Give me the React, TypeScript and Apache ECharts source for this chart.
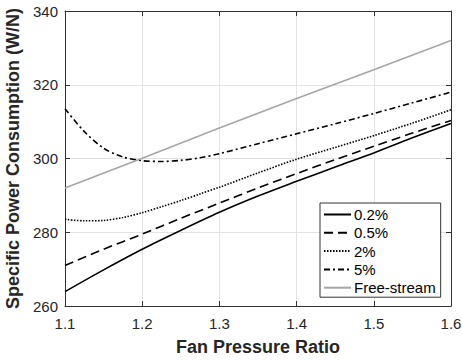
import React, { useEffect, useRef } from "react";
import * as echarts from "echarts";

const xCurve = [1.1, 1.125, 1.15, 1.175, 1.2, 1.225, 1.25, 1.275, 1.3, 1.35, 1.4, 1.45, 1.5, 1.55, 1.6];
const y5 = [313.5, 307.3, 302.8, 300.4, 299.4, 299.2, 299.5, 300.2, 301.3, 304.0, 306.7, 309.4, 312.2, 315.1, 318.0];
const y2 = [283.5, 283.1, 283.2, 284.0, 285.3, 286.9, 288.6, 290.4, 292.2, 296.1, 299.8, 303.0, 306.2, 309.6, 313.2];

const xLin = [1.1, 1.15, 1.2, 1.25, 1.3, 1.35, 1.4, 1.45, 1.5, 1.55, 1.6];
const y05 = [271.0, 275.4, 279.5, 283.8, 287.9, 292.0, 295.9, 299.7, 303.3, 306.9, 310.3];
const y02 = [263.9, 269.8, 275.4, 280.5, 285.4, 289.8, 293.8, 297.7, 301.5, 305.6, 309.5];

const xFree = [1.1, 1.2, 1.3, 1.4, 1.5, 1.6];
const yFree = [292.0, 300.1, 308.3, 316.3, 324.1, 332.0];

const seriesNames = ["0.2%", "0.5%", "2%", "5%", "Free-stream"];

const pairs = (xs: number[], ys: number[]) => xs.map((x, i) => [x, ys[i]]);

const AX = "#333333";
const FONT = "Liberation Sans, Arial, Helvetica, sans-serif";

export default function App() {
  const ref = useRef<HTMLDivElement>(null);
  useEffect(() => {
    const chart = echarts.init(ref.current!, null, { renderer: "svg" });
    const mkLine = (name: string, data: number[][], color: string, type: any, smooth = true) => ({
      name,
      type: "line",
      data,
      smooth: smooth ? 0.3 : false,
      symbol: "none",
      showSymbol: false,
      lineStyle: { color, width: 1.6, type },
      itemStyle: { color },
      xAxisIndex: 0,
      yAxisIndex: 0,
      z: 3,
    });
    chart.setOption({
      animation: false,
      textStyle: { fontFamily: FONT },
      grid: { left: 65, right: 11, top: 11, bottom: 55, containLabel: false, outerBoundsMode: "none" },
      legend: {
        orient: "vertical",
        left: 320,
        top: 203,
        data: seriesNames,
        itemWidth: 27,
        itemHeight: 10,
        itemGap: 3.3,
        padding: [4, 5, 2, 3],
        borderColor: AX,
        borderWidth: 1,
        backgroundColor: "#ffffff",
        itemStyle: { color: "rgba(0,0,0,0)", borderWidth: 0, opacity: 0 },
        textStyle: { fontSize: 15, color: "#000", lineHeight: 15, fontFamily: FONT, padding: [0, 0, 0, -2] },
      },
      xAxis: [
        {
          type: "value",
          min: 1.1,
          max: 1.6,
          interval: 0.1,
          position: "bottom",
          name: "Fan Pressure Ratio",
          nameLocation: "middle",
          nameGap: 32,
          nameTextStyle: { fontSize: 18, fontWeight: "bold", color: "#262626", fontFamily: FONT },
          axisLine: { show: true, lineStyle: { color: AX, width: 1 } },
          axisTick: { show: true, inside: true, length: 5, lineStyle: { color: AX } },
          axisLabel: { fontSize: 15, color: "#262626", margin: 10, formatter: (v: number) => v.toFixed(1) },
          splitLine: { show: true, lineStyle: { color: "#e3e3e3", width: 1 } },
        },
        {
          type: "value",
          min: 1.1,
          max: 1.6,
          interval: 0.1,
          position: "top",
          axisLine: { show: true, lineStyle: { color: AX, width: 1 } },
          axisTick: { show: true, inside: true, length: 5, lineStyle: { color: AX } },
          axisLabel: { show: false },
          splitLine: { show: false },
        },
      ],
      yAxis: [
        {
          type: "value",
          min: 260,
          max: 340,
          interval: 20,
          position: "left",
          name: "Specific Power Consumption (W/N)",
          nameLocation: "middle",
          nameGap: 39,
          nameTextStyle: { fontSize: 18, fontWeight: "bold", color: "#262626", fontFamily: FONT },
          axisLine: { show: true, lineStyle: { color: AX, width: 1 } },
          axisTick: { show: true, inside: true, length: 5, lineStyle: { color: AX } },
          axisLabel: { fontSize: 15, color: "#262626", margin: 7 },
          splitLine: { show: true, lineStyle: { color: "#e3e3e3", width: 1 } },
        },
        {
          type: "value",
          min: 260,
          max: 340,
          interval: 20,
          position: "right",
          axisLine: { show: true, lineStyle: { color: AX, width: 1 } },
          axisTick: { show: true, inside: true, length: 5, lineStyle: { color: AX } },
          axisLabel: { show: false },
          splitLine: { show: false },
        },
      ],
      series: [
        mkLine(seriesNames[0], pairs(xLin, y02), "#000000", "solid"),
        mkLine(seriesNames[1], pairs(xLin, y05), "#000000", [9, 5]),
        mkLine(seriesNames[2], pairs(xCurve, y2), "#000000", [1.5, 1.5]),
        mkLine(seriesNames[3], pairs(xCurve, y5), "#000000", [6, 3, 2, 3]),
        mkLine(seriesNames[4], pairs(xFree, yFree), "#a6a6a6", "solid", false),
      ],
    });
    return () => chart.dispose();
  }, []);
  return (
    <div
      ref={ref}
      style={{ position: "fixed", left: 0, top: 0, width: 462, height: 361, background: "#fff" }}
    />
  );
}
